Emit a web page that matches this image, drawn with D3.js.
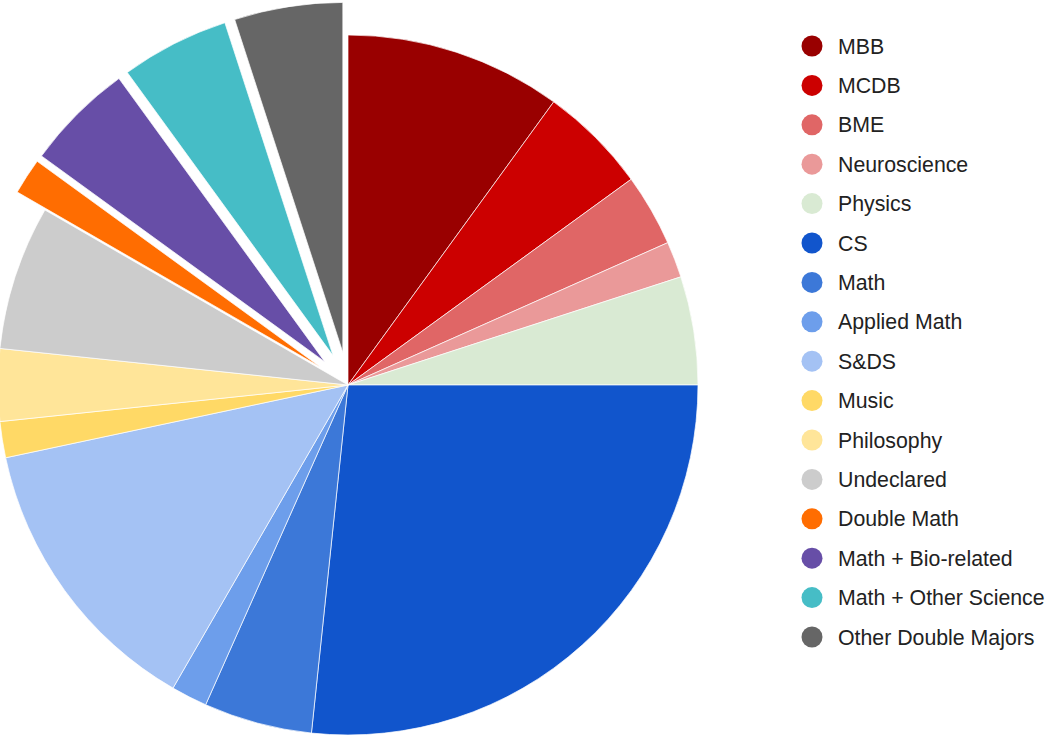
<!DOCTYPE html>
<html>
<head>
<meta charset="utf-8">
<script src="https://cdn.jsdelivr.net/npm/d3@7"></script>
<style>
  body { margin: 0; background: #fff; }
  text { font-family: Arial, "Liberation Sans", sans-serif; }
</style>
</head>
<body>
<div id="chart"></div>
<script>
// Data
const majors = ['MBB', 'MCDB', 'BME', 'Neuroscience', 'Physics', 'CS', 'Math',
  'Applied Math', 'S&DS', 'Music', 'Philosophy', 'Undeclared', 'Double Math',
  'Math + Bio-related', 'Math + Other Science', 'Other Double Majors'];
const counts = [6, 3, 2, 1, 3, 16, 3, 1, 8, 1, 2, 4, 1, 3, 3, 3];
const exploded = ['Double Math', 'Math + Bio-related', 'Math + Other Science', 'Other Double Majors'];

const palette = ['#990000', '#cc0000', '#e06666', '#ea9999', '#d9ead3', '#1155cc',
  '#3c78d8', '#6d9eeb', '#a4c2f4', '#ffd966', '#ffe599', '#cccccc', '#ff6d01',
  '#674ea7', '#46bdc6', '#666666'];

function draw() {
  const dataset = majors.map((name, i) => ({ name, value: counts[i] }));

  // Dimensions
  const dimensions = { width: 1045, height: 740 };
  const radius = 350;
  const cx = 348, cy = 385;
  const offset = 33;

  const svg = d3.select('#chart')
    .append('svg')
    .attr('width', dimensions.width)
    .attr('height', dimensions.height);

  const colorScale = d3.scaleOrdinal()
    .domain(majors)
    .range(palette);

  const pie = d3.pie()
    .value(d => d.value)
    .sort(null);
  const slices = pie(dataset);

  const arc = d3.arc()
    .outerRadius(radius)
    .innerRadius(0);

  const arcGroup = svg.append('g')
    .attr('transform', `translate(${cx}, ${cy})`);

  arcGroup.selectAll('path')
    .data(slices)
    .join('path')
    .attr('d', arc)
    .attr('fill', d => colorScale(d.data.name))
    .attr('stroke', '#fff')
    .attr('stroke-width', 0.7)
    .attr('transform', d => {
      if (!exploded.includes(d.data.name)) return null;
      const mid = (d.startAngle + d.endAngle) / 2;
      return `translate(${Math.sin(mid) * offset}, ${-Math.cos(mid) * offset})`;
    });

  // Legend
  const legendY = d3.scalePoint()
    .domain(majors)
    .range([46, 637]);

  const legend = svg.append('g');
  const rows = legend.selectAll('g')
    .data(majors)
    .join('g')
    .attr('transform', d => `translate(812, ${legendY(d)})`);

  rows.append('circle')
    .attr('r', 10.5)
    .attr('fill', d => colorScale(d));

  rows.append('text')
    .attr('x', 26)
    .attr('dy', '0.36em')
    .attr('font-size', 21.3)
    .attr('fill', '#222')
    .text(d => d);
}

draw();
</script>
</body>
</html>
